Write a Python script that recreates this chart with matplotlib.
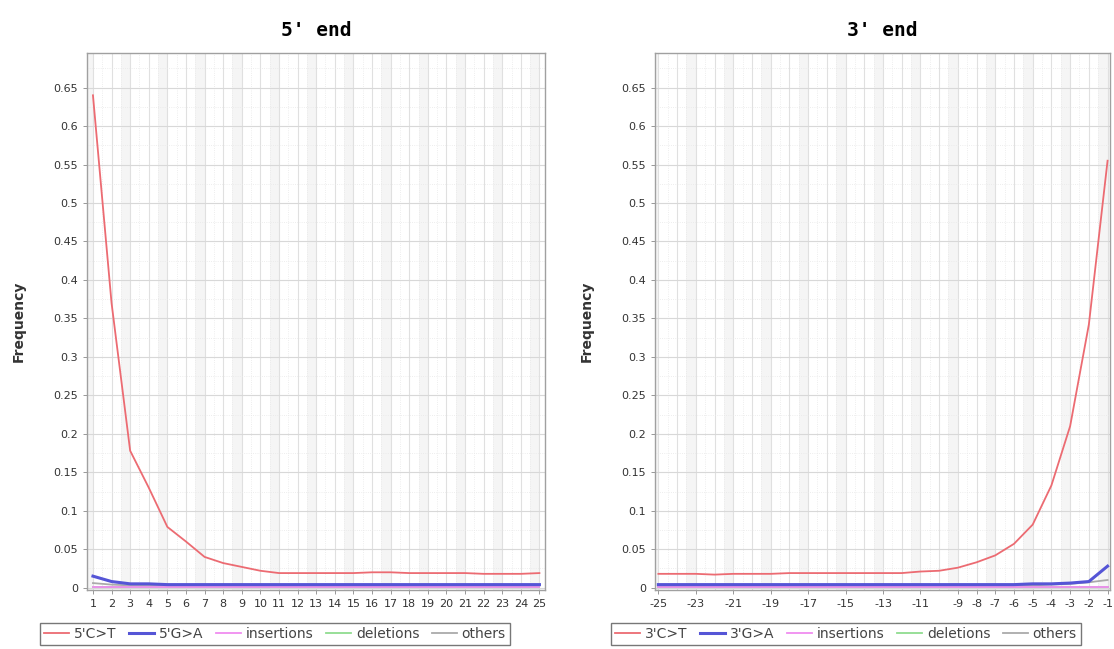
import matplotlib
matplotlib.use("Agg")
import matplotlib.pyplot as plt
import numpy as np

# ---------------- data ----------------
pos5 = list(range(1, 26))
ct5 = [0.640, 0.370, 0.178, 0.130, 0.079, 0.060, 0.040, 0.032, 0.027, 0.022,
       0.019, 0.019, 0.019, 0.019, 0.019, 0.020, 0.020, 0.019, 0.019, 0.019,
       0.019, 0.018, 0.018, 0.018, 0.019]
ga5 = [0.015, 0.008, 0.005, 0.005, 0.004, 0.004, 0.004, 0.004, 0.004, 0.004,
       0.004, 0.004, 0.004, 0.004, 0.004, 0.004, 0.004, 0.004, 0.004, 0.004,
       0.004, 0.004, 0.004, 0.004, 0.004]
ins5 = [0.001] * 25
del5 = [0.001] * 25
oth5 = [0.006, 0.004, 0.003, 0.003, 0.003, 0.003, 0.003, 0.003, 0.003, 0.003,
        0.003, 0.003, 0.003, 0.003, 0.003, 0.003, 0.003, 0.003, 0.003, 0.003,
        0.003, 0.003, 0.003, 0.003, 0.003]

pos3 = list(range(-25, 0))
ct3 = [0.018, 0.018, 0.018, 0.017, 0.018, 0.018, 0.018, 0.019, 0.019, 0.019,
       0.019, 0.019, 0.019, 0.019, 0.021, 0.022, 0.026, 0.033, 0.042, 0.057,
       0.082, 0.133, 0.210, 0.342, 0.555]
ga3 = [0.004, 0.004, 0.004, 0.004, 0.004, 0.004, 0.004, 0.004, 0.004, 0.004,
       0.004, 0.004, 0.004, 0.004, 0.004, 0.004, 0.004, 0.004, 0.004, 0.004,
       0.005, 0.005, 0.006, 0.008, 0.028]
ins3 = [0.001] * 25
del3 = [0.001] * 25
oth3 = [0.003, 0.003, 0.003, 0.003, 0.003, 0.003, 0.003, 0.003, 0.003, 0.003,
        0.003, 0.003, 0.003, 0.003, 0.003, 0.003, 0.003, 0.003, 0.003, 0.003,
        0.003, 0.004, 0.005, 0.007, 0.010]

yticks = [0, 0.05, 0.1, 0.15, 0.2, 0.25, 0.3, 0.35, 0.4, 0.45, 0.5, 0.55, 0.6, 0.65]
ytick_labels = ["0", "0.05", "0.1", "0.15", "0.2", "0.25", "0.3", "0.35", "0.4",
                "0.45", "0.5", "0.55", "0.6", "0.65"]
xticks3 = [-25, -23, -21, -19, -17, -15, -13, -11, -9, -8, -7, -6, -5, -4, -3, -2, -1]

C_RED = "#ec6b72"
C_BLUE = "#5555d6"
C_PINK = "#f08cf0"
C_GREEN = "#90dc90"
C_GRAY = "#aaaaaa"

fig = plt.figure(figsize=(11.14, 6.49), dpi=100)
W, H = 1114, 649


def make_ax(x0, x1, y0, y1):
    return fig.add_axes([x0 / W, 1 - y1 / H, (x1 - x0) / W, (y1 - y0) / H])


def style(ax, xs, xlim):
    ax.set_xlim(*xlim)
    ax.set_ylim(-0.003, 0.695)
    for i, x in enumerate(xs):
        if i % 2 == 0:
            ax.axvspan(x - 0.5, x, color="#f5f5f5", zorder=0, lw=0)
    for x in xs:
        ax.axvline(x, color="#e0e0e0", lw=0.8, zorder=0.5)
        ax.axvline(x + 0.5, color="#e8e8e8", lw=0.6, ls=":", zorder=0.5)
    for y in yticks:
        ax.axhline(y, color="#d8d8d8", lw=0.8, zorder=0.5)
        ax.axhline(y + 0.025, color="#e8e8e8", lw=0.6, ls=":", zorder=0.5)
    ax.set_yticks(yticks)
    ax.set_yticklabels(ytick_labels)
    for s in ax.spines.values():
        s.set_color("#a0a0a0")
        s.set_linewidth(1.0)
    ax.tick_params(axis="both", colors="#888888", labelcolor="#333333",
                   labelsize=8, length=3, width=0.6)
    ax.set_ylabel("Frequency", fontsize=10, fontweight="bold", color="#333333", labelpad=20)


def draw(ax, xs, series):
    cols = [C_RED, C_BLUE, C_PINK, C_GREEN, C_GRAY]
    lines = {}
    for k in [4, 3, 2, 1, 0]:
        lw = 2.2 if k == 1 else 1.3
        ln, = ax.plot(xs, series[k], color=cols[k], lw=lw, zorder=3 + (5 - k) * 0.1)
        lines[k] = ln
    return [lines[k] for k in range(5)]


ax1 = make_ax(87, 545, 53, 590)
style(ax1, pos5, (0.68, 25.3))
ax1.set_xticks(pos5)
ax1.set_xticklabels([str(p) for p in pos5])
h1 = draw(ax1, pos5, [ct5, ga5, ins5, del5, oth5])
ax1.set_title("5' end", fontsize=14, fontweight="bold", pad=12,
              family="DejaVu Sans Mono")

ax2 = make_ax(655, 1110, 53, 590)
style(ax2, pos3, (-25.18, -0.87))
ax2.set_xticks(xticks3)
ax2.set_xticklabels([str(p) for p in xticks3])
h2 = draw(ax2, pos3, [ct3, ga3, ins3, del3, oth3])
ax2.set_title("3' end", fontsize=14, fontweight="bold", pad=12,
              family="DejaVu Sans Mono")

leg_kw = dict(ncol=5, fontsize=10, frameon=True, fancybox=False, handlelength=1.8,
              handletextpad=0.35, columnspacing=0.9, borderpad=0.3,
              loc="center", edgecolor="#555555")
l1 = fig.legend(h1, ["5'C>T", "5'G>A", "insertions", "deletions", "others"],
                bbox_to_anchor=(275 / W, 1 - 634 / H), **leg_kw)
l2 = fig.legend(h2, ["3'C>T", "3'G>A", "insertions", "deletions", "others"],
                bbox_to_anchor=(846 / W, 1 - 634 / H), **leg_kw)
for l in (l1, l2):
    l.get_frame().set_linewidth(1.0)
    for t in l.get_texts():
        t.set_color("#444444")

fig.savefig("out.png", dpi=100)
